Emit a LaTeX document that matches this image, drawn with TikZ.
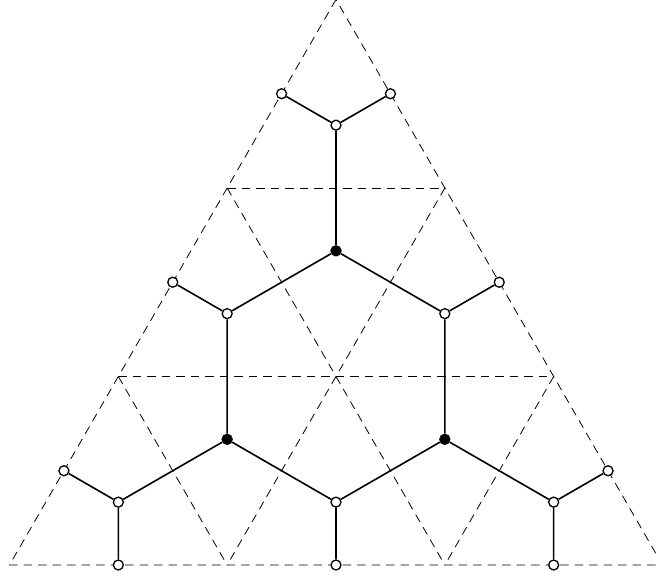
\documentclass[tikz,border=0pt]{standalone}
\usetikzlibrary{calc}
\begin{document}
\begin{tikzpicture}[x=1pt,y=-1pt,
  grid/.style={dash pattern=on 8.5pt off 6pt, line width=0.8pt},
  edge/.style={line width=1.6pt},
  wnode/.style={circle, draw, fill=white, line width=1.3pt, inner sep=0pt, minimum size=10pt},
  bnode/.style={circle, draw, fill=black, line width=1.3pt, inner sep=0pt, minimum size=10pt}]
\useasboundingbox (0,0) rectangle (657,577);
\clip (0,0) rectangle (657,577);
% grid points
\coordinate (p00) at (336,-0.5);
\coordinate (p30) at (9.5,565);
\coordinate (p33) at (662.5,565);
\coordinate (p10) at ($(p00)!1/3!(p30)$);
\coordinate (p20) at ($(p00)!2/3!(p30)$);
\coordinate (p11) at ($(p00)!1/3!(p33)$);
\coordinate (p22) at ($(p00)!2/3!(p33)$);
\coordinate (p31) at ($(p30)!1/3!(p33)$);
\coordinate (p32) at ($(p30)!2/3!(p33)$);
\coordinate (p21) at ($(p20)!1/2!(p22)$);
% dashed grid
\draw[grid] (p00) -- (p30) -- (p33) -- cycle;
\draw[grid] (p10) -- (p11);
\draw[grid] (p20) -- (p22);
\draw[grid] (p10) -- (p32);
\draw[grid] (p20) -- (p31);
\draw[grid] (p11) -- (p31);
\draw[grid] (p22) -- (p32);
% nodes
\node[wnode] (wt) at (barycentric cs:p00=1,p10=1,p11=1) {};
\node[wnode] (wl) at (barycentric cs:p10=1,p20=1,p21=1) {};
\node[wnode] (wr) at (barycentric cs:p11=1,p21=1,p22=1) {};
\node[wnode] (wbl) at (barycentric cs:p20=1,p30=1,p31=1) {};
\node[wnode] (wbm) at (barycentric cs:p21=1,p31=1,p32=1) {};
\node[wnode] (wbr) at (barycentric cs:p22=1,p32=1,p33=1) {};
\node[bnode] (bt) at (barycentric cs:p10=1,p11=1,p21=1) {};
\node[bnode] (bl) at (barycentric cs:p20=1,p21=1,p31=1) {};
\node[bnode] (br) at (barycentric cs:p21=1,p22=1,p32=1) {};
\node[wnode] (l1) at ($(p00)!0.5!(p10)$) {};
\node[wnode] (l2) at ($(p00)!0.5!(p11)$) {};
\node[wnode] (l3) at ($(p10)!0.5!(p20)$) {};
\node[wnode] (l4) at ($(p11)!0.5!(p22)$) {};
\node[wnode] (l5) at ($(p20)!0.5!(p30)$) {};
\node[wnode] (l6) at ($(p22)!0.5!(p33)$) {};
\node[wnode] (l7) at ($(p30)!0.5!(p31)$) {};
\node[wnode] (l8) at ($(p31)!0.5!(p32)$) {};
\node[wnode] (l9) at ($(p32)!0.5!(p33)$) {};
% edges
\draw[edge] (wt) -- (l1);
\draw[edge] (wt) -- (l2);
\draw[edge] (wt) -- (bt);
\draw[edge] (bt) -- (wl);
\draw[edge] (bt) -- (wr);
\draw[edge] (wl) -- (l3);
\draw[edge] (wr) -- (l4);
\draw[edge] (wl) -- (bl);
\draw[edge] (wr) -- (br);
\draw[edge] (bl) -- (wbl);
\draw[edge] (bl) -- (wbm);
\draw[edge] (br) -- (wbm);
\draw[edge] (br) -- (wbr);
\draw[edge] (wbl) -- (l5);
\draw[edge] (wbl) -- (l7);
\draw[edge] (wbm) -- (l8);
\draw[edge] (wbr) -- (l6);
\draw[edge] (wbr) -- (l9);
\end{tikzpicture}
\end{document}
